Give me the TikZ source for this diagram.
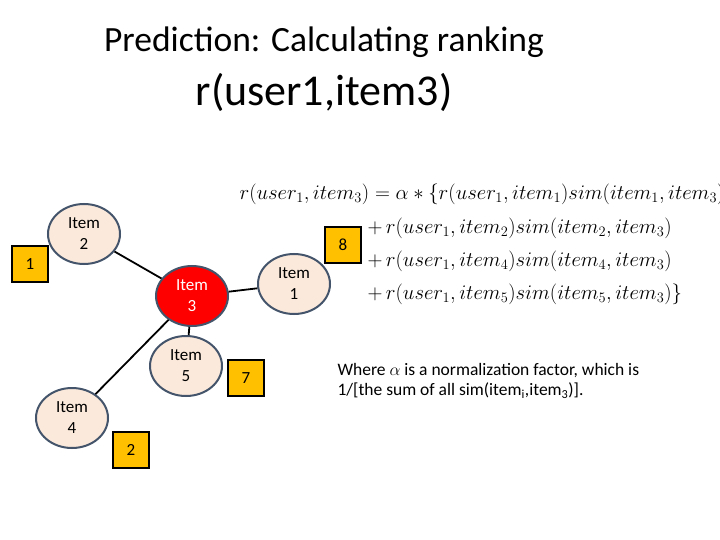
\documentclass[tikz,border=0pt]{standalone}
\usepackage{fontspec}
\setmainfont{Carlito}
\usepackage{amsmath}
\usetikzlibrary{shapes.geometric}
\definecolor{gold}{HTML}{FFC000}
\definecolor{slate}{HTML}{44546A}
\definecolor{peach}{HTML}{FBE9DB}
\begin{document}
\begin{tikzpicture}[x=1pt,y=-1pt,
  itm/.style={ellipse,draw=slate,line width=2pt,fill=peach,minimum width=72pt,minimum height=60pt,inner sep=0pt,align=center,font=\fontsize{17}{21}\selectfont},
  num/.style={draw=black,line width=2pt,fill=gold,minimum size=36pt,inner sep=0pt,font=\fontsize{17}{20}\selectfont},
  edge/.style={line width=1.8pt}]
\useasboundingbox (0,0) rectangle (720,540);
\node (t1) at (324,42) {\fontsize{35.5}{40}\selectfont Prediction: Calculating ranking};
\node (t2) at (324,92) {\fontsize{44}{48}\selectfont r(user1,item3)};
\node[itm,fill=red,text=white] (i3) at (192,296) {Item\\3};
\node[itm] (i2) at (84,234) {Item\\2};
\node[itm] (i1) at (294,284) {Item\\1};
\node[itm] (i5) at (186,366) {Item\\5};
\node[itm] (i4) at (72,418) {Item\\4};
\draw[edge] (i2) -- (i3);
\draw[edge] (i1) -- (i3);
\draw[edge] (i5) -- (i3);
\draw[edge] (i4) -- (i3);
\node[num] (n1) at (30,264) {1};
\node[num] (n8) at (343,245) {8};
\node[num] (n7) at (246,378) {7};
\node[num] (n2) at (131,450) {2};
\node[anchor=west,font=\fontsize{19.6}{22}\selectfont] (e1) at (236,194) {$r(user_1,item_3)=\alpha*\{r(user_1,item_1)sim(item_1,item_3)$};
\node[anchor=west,font=\fontsize{19.6}{22}\selectfont] (e2) at (364,228) {$+\,r(user_1,item_2)sim(item_2,item_3)$};
\node[anchor=west,font=\fontsize{19.6}{22}\selectfont] (e3) at (364,261) {$+\,r(user_1,item_4)sim(item_4,item_3)$};
\node[anchor=west,font=\fontsize{19.6}{22}\selectfont] (e4) at (364,294) {$+\,r(user_1,item_5)sim(item_5,item_3)\}$};
\node[anchor=west,align=left,font=\fontsize{17.5}{20}\selectfont] (w) at (334,381) {Where $\alpha$ is a normalization factor, which is\\1/[the sum of all sim(item\textsubscript{i},item\textsubscript{3})].};
\end{tikzpicture}
\end{document}
